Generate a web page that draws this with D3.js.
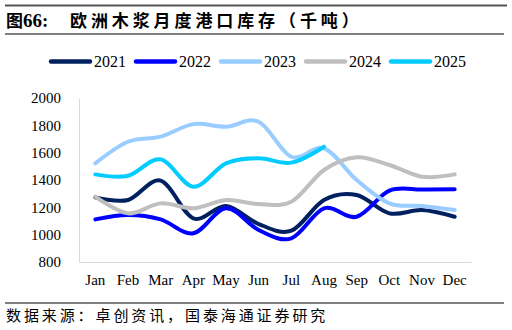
<!DOCTYPE html>
<html><head><meta charset="utf-8">
<script src="https://cdn.jsdelivr.net/npm/d3@7"></script>
<style>body{margin:0;background:#fff}svg{display:block}
.cjk{font-family:"Noto Sans CJK SC",sans-serif}
</style>
</head><body>
<script>
const months = ["Jan","Feb","Mar","Apr","May","Jun","Jul","Aug","Sep","Oct","Nov","Dec"];
const yTicks = [800,1000,1200,1400,1600,1800,2000];
const s2021 = [1273,1254,1395,1120,1210,1078,1029,1254,1290,1156,1180,1131];
const s2022 = [1112,1144,1112,1010,1193,1034,973,1193,1131,1322,1330,1332];
const s2023 = [1522,1680,1717,1809,1790,1826,1570,1632,1400,1229,1210,1180];
const s2024 = [1278,1156,1229,1193,1254,1224,1241,1473,1566,1510,1424,1441];
const s2025 = [1441,1431,1551,1351,1522,1559,1527,1643];
const seriesNames = ["2021","2022","2023","2024","2025"];
const colors = ["#002060","#0000FF","#99CCFF","#BFBFBF","#00CCFF"];
const seriesData = [s2021,s2022,s2023,s2024,s2025];

const W=512,H=330;
const svg=d3.select("body").append("svg").attr("width",W).attr("height",H);
const SERIF='"Liberation Serif","Times New Roman",Tinos,"DejaVu Serif",serif';

// header lines
svg.append("line").attr("x1",5).attr("x2",507).attr("y1",5.5).attr("y2",5.5).attr("stroke","#555").attr("stroke-width",2);
svg.append("line").attr("x1",5).attr("x2",504).attr("y1",34).attr("y2",34).attr("stroke","#000").attr("stroke-width",1.2);
svg.append("line").attr("x1",5).attr("x2",504).attr("y1",303).attr("y2",303).attr("stroke","#000").attr("stroke-width",1.2);

const title=svg.append("text").attr("x",6).attr("y",27).attr("font-weight","bold").attr("fill","#000");
title.append("tspan").attr("class","cjk").style("font-size","17px").text("图");
title.append("tspan").style("font-family",SERIF).style("font-size","19px").text("66:");
title.append("tspan").attr("class","cjk").attr("x",70).style("font-size","17px").style("letter-spacing","3.9px").text("欧洲木浆月度港口库存（千吨）");

svg.append("text").attr("class","cjk").attr("x",6).attr("y",321).style("font-size","15px").style("letter-spacing","2.9px").attr("fill","#000").text("数据来源：卓创资讯，国泰海通证券研究");

// scales
const x=d3.scaleBand().domain(months).range([79,471]);
const y=d3.scaleLinear().domain([800,2000]).range([262,98]);

const ya=svg.append("g").attr("transform","translate(79,0)").call(d3.axisLeft(y).tickValues(yTicks).tickSize(0).tickPadding(18).tickFormat(d3.format("d")));
ya.attr("font-family",SERIF).attr("font-size",15);
ya.select(".domain").attr("stroke","#D9D9D9");
ya.selectAll("text").style("font-family",SERIF).style("font-size","15px").attr("fill","#000");
const xa=svg.append("g").attr("transform","translate(0,262)").call(d3.axisBottom(x).tickSize(0).tickPadding(12));
xa.attr("font-family",SERIF).attr("font-size",15);
xa.select(".domain").attr("stroke","#D9D9D9");
xa.selectAll("text").style("font-family",SERIF).style("font-size","15px").attr("fill","#000");

const line=d3.line().x((d,i)=>x(months[i])+x.bandwidth()/2).y(d=>y(d)).curve(d3.curveCatmullRom.alpha(0));
seriesData.forEach((s,k)=>{
  svg.append("path").datum(s).attr("d",line).attr("fill","none").attr("stroke",colors[k]).attr("stroke-width",4).attr("stroke-linecap","round").attr("stroke-linejoin","round");
});

// legend
const lx=[51,136,221,306,391];
seriesNames.forEach((n,k)=>{
  svg.append("line").attr("x1",lx[k]).attr("x2",lx[k]+39).attr("y1",61.5).attr("y2",61.5).attr("stroke",colors[k]).attr("stroke-width",4.5).attr("stroke-linecap","round");
  svg.append("text").style("font-family",SERIF).attr("x",lx[k]+43).attr("y",67).style("font-size","16px").attr("fill","#000").text(n);
});
</script>
</body></html>
